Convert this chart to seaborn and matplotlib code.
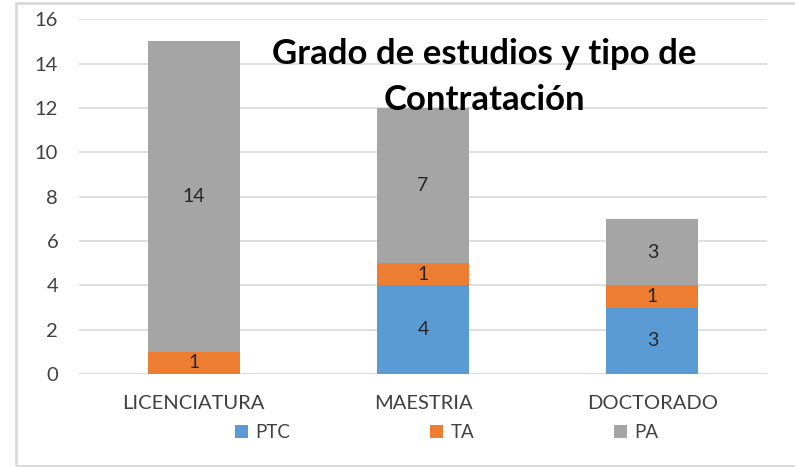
import matplotlib
matplotlib.use("Agg")
import matplotlib.pyplot as plt
import seaborn as sns
import pandas as pd
from matplotlib.patches import Patch, Rectangle

# --- Data ---
categories = ["LICENCIATURA", "MAESTRIA", "DOCTORADO"]
ptc = [0, 4, 3]
ta = [1, 1, 1]
pa = [14, 7, 3]
series_names = ["PTC", "TA", "PA"]
colors = ["#5B9BD5", "#ED7D31", "#A5A5A5"]
title = "Grado de estudios y tipo de\nContratación"

sns.set_style("white")
plt.rcParams["font.family"] = ["Lato", "DejaVu Sans"]

fig = plt.figure(figsize=(7.95, 4.67), dpi=100)
ax = fig.add_axes([0.0994, 0.199, 0.8654, 0.760])

df = pd.DataFrame({"cat": categories, "PTC": ptc, "TA": ta, "PA": pa})

bottom = [0] * len(categories)
for name, col in zip(series_names, colors):
    vals = df[name].tolist()
    sns.barplot(data=df, x="cat", y=name, color=col, width=0.4,
                bottom=bottom, ax=ax, saturation=1, linewidth=0, zorder=3)
    cont = ax.containers[-1]
    labels = [str(v) if v else "" for v in vals]
    ax.bar_label(cont, labels=labels, label_type="center", fontsize=14,
                 color="#262626", zorder=4)
    bottom = [b + v for b, v in zip(bottom, vals)]

ax.set_ylim(0, 16)
ax.set_xlim(-0.5, 2.5)
ax.set_yticks(range(0, 17, 2))
ax.yaxis.grid(True, color="#D9D9D9", linewidth=1.2, zorder=0)
ax.set_axisbelow(True)
for s in ax.spines.values():
    s.set_visible(False)
ax.axhline(0, color="#D9D9D9", linewidth=1.2, zorder=1)
ax.tick_params(axis="both", length=0, labelsize=14.5, labelcolor="#404040")
ax.tick_params(axis="x", pad=15)
ax.tick_params(axis="y", pad=15)
ax.set_xlabel("")
ax.set_ylabel("")

ax.text(0.589, 0.948, title, transform=ax.transAxes, ha="center", va="top",
        fontsize=25, fontweight="bold", color="black", linespacing=1.55)

handles = [Patch(facecolor=c, edgecolor="none") for c in colors]
fig.legend(handles, series_names, loc="center", bbox_to_anchor=(0.562, 0.073),
           ncol=3, frameon=False, fontsize=13.5, handlelength=0.7,
           handleheight=0.7, handletextpad=0.4, columnspacing=7.45,
           labelcolor="#404040")

# chart border (cut off at the right like the source)
fig.patches.append(Rectangle((16 / 795, 1 / 467), 1.0, 463 / 467,
                             transform=fig.transFigure, fill=False,
                             edgecolor="#D9D9D9", linewidth=2))

fig.savefig("out.png", dpi=100)
